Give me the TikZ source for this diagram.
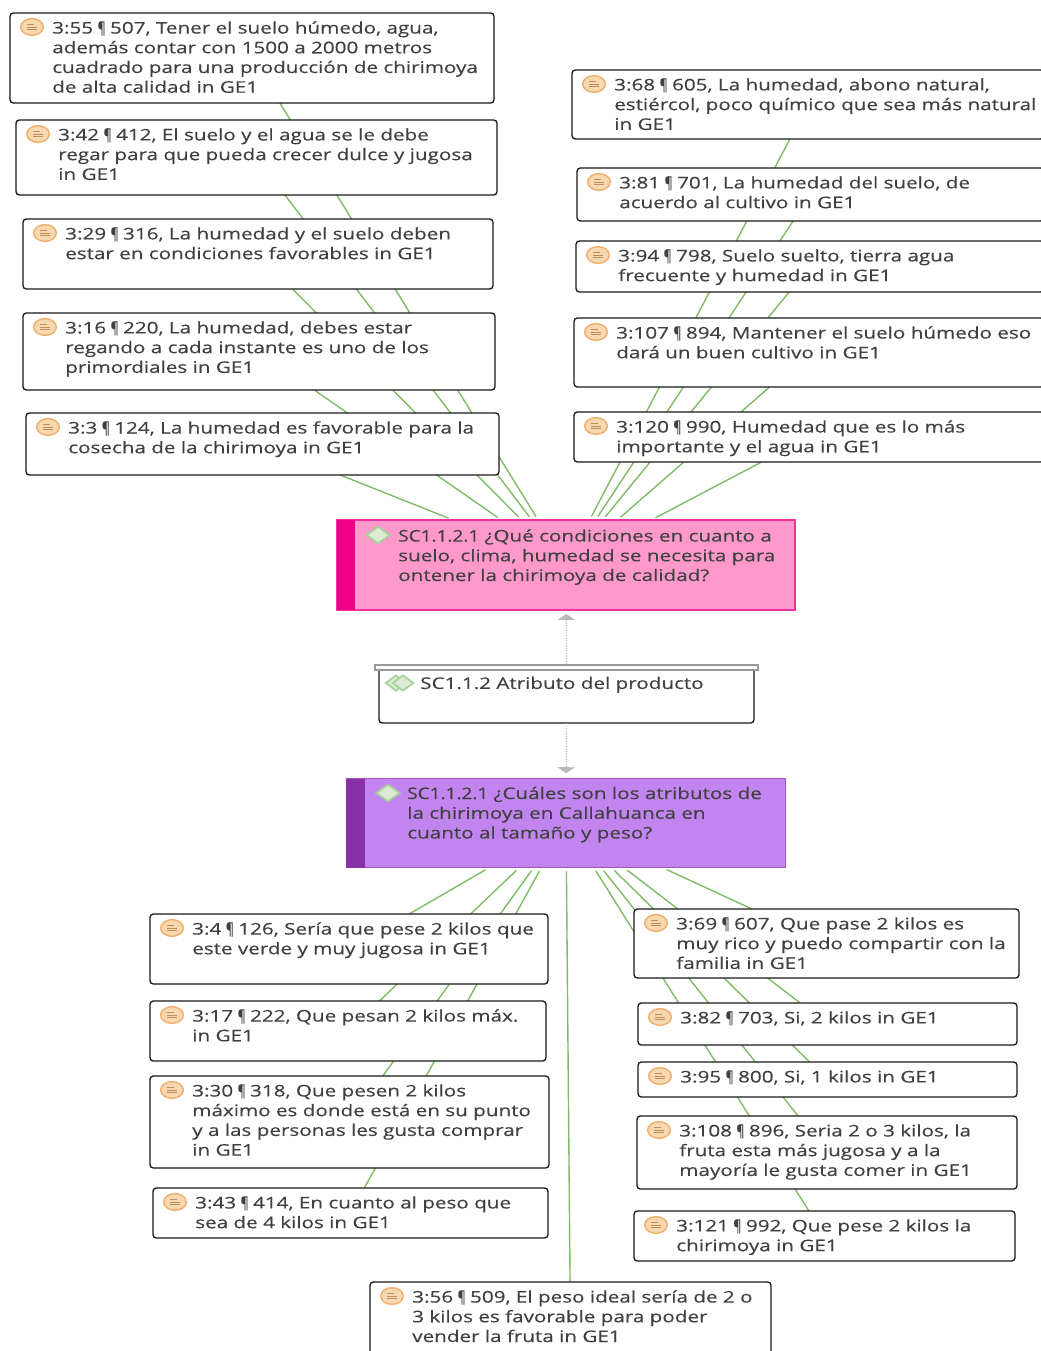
\documentclass[tikz,border=0pt]{standalone}
\usepackage{graphicx}
\usepackage{fontspec}
\setmainfont[FakeStretch=1.29,FakeBold=0.35]{Open Sans}
\usetikzlibrary{shapes.geometric,backgrounds,arrows.meta}

\definecolor{linkgreen}{HTML}{7FBC68}
\definecolor{textgray}{HTML}{404040}
\definecolor{pinkfill}{HTML}{FF99CC}
\definecolor{pinkbar}{HTML}{EE0088}
\definecolor{violetfill}{HTML}{C285EF}
\definecolor{violetbar}{HTML}{8830A8}
\definecolor{notefill}{HTML}{F8D8B0}
\definecolor{noteline}{HTML}{F0B070}
\definecolor{codefill}{HTML}{DDEBD2}
\definecolor{codeline}{HTML}{A5D39A}

\tikzset{
    boxframe/.style={draw=black!90, fill=white, line width=1pt, rounded corners=2.5pt, inner sep=0pt, outer sep=0pt},
    boxtext/.style={anchor=north west, inner sep=0pt, align=left, text=textgray, font=\fontsize{12}{14.8}\selectfont},
    noteicon/.style={ellipse, draw=noteline, line width=1.1pt, fill=notefill, minimum width=17pt, minimum height=12.5pt, inner sep=0pt,
        path picture={\draw[noteline!80!black, line width=.6pt]
            ([xshift=-3.5pt,yshift=1.6pt]path picture bounding box.center) -- +(5pt,0)
            ([xshift=-3.5pt]path picture bounding box.center) -- +(7pt,0)
            ([xshift=-3.5pt,yshift=-1.6pt]path picture bounding box.center) -- +(7pt,0);}},
    codeicon/.style={diamond, draw=codeline, line width=1.3pt, fill=codefill, minimum width=18pt, minimum height=13pt, inner sep=0pt},
    link/.style={draw=linkgreen, line width=1.05pt, shorten >=2.5pt},
    hint/.style={draw=black!28, densely dotted, line width=.9pt, -{Triangle[width=13pt,length=4.5pt]}}
}

% narrow pilcrow and code number
\newcommand{\pil}{\kern-.7pt\scalebox{.6}[1]{¶}\kern-.7pt}
\newcommand{\codeid}{\scalebox{.92}[1]{SC1.1.2.1}}

% name, left, top, right, bottom, text
\newcommand{\quotenode}[6]{
    \node[boxframe, minimum width={(#4-#2)*.75pt}, minimum height={(#5-#3)*.75pt}] (#1) at ({(#2+#4)/2},{(#3+#5)/2}) {};
    \node[noteicon] (#1icon) at (#2+22,#3+14) {};
    \node[boxtext] (#1text) at (#2+42,#3+8) {#6};
}

\begin{document}
\begin{tikzpicture}[x=.75pt,y=-.75pt]
    \useasboundingbox (0,0) rectangle (1040,1351);

    % Quotes above the pink code
    \quotenode{qa}{10}{13}{494}{103}{3:55 \pil{} 507, Tener el suelo húmedo, agua,\\además contar con 1500 a 2000 metros\\cuadrado para una producción de chirimoya\\de alta calidad in GE1}
    \quotenode{qb}{16}{120}{497}{195}{3:42 \pil{} 412, El suelo y el agua se le debe\\regar para que pueda crecer dulce y jugosa\\in GE1}
    \quotenode{qc}{23}{219}{493}{289}{3:29 \pil{} 316, La humedad y el suelo deben\\estar en condiciones favorables in GE1}
    \quotenode{qd}{23}{313}{495}{390}{3:16 \pil{} 220, La humedad, debes estar\\regando a cada instante es uno de los\\primordiales in GE1}
    \quotenode{qe}{26}{413}{499}{475}{3:3 \pil{} 124, La humedad es favorable para la\\cosecha de la chirimoya in GE1}
    \quotenode{qf}{572}{70}{1044}{139}{3:68 \pil{} 605, La humedad, abono natural,\\estiércol, poco químico que sea más natural\\in GE1}
    \quotenode{qg}{577}{168}{1044}{221}{3:81 \pil{} 701, La humedad del suelo, de\\acuerdo al cultivo in GE1}
    \quotenode{qh}{576}{241}{1044}{292}{3:94 \pil{} 798, Suelo suelto, tierra agua\\frecuente y humedad in GE1}
    \quotenode{qi}{574}{318}{1044}{387}{3:107 \pil{} 894, Mantener el suelo húmedo eso\\dará un buen cultivo in GE1}
    \quotenode{qj}{574}{412}{1044}{462}{3:120 \pil{} 990, Humedad que es lo más\\importante y el agua in GE1}

    % Pink code
    \node[rectangle, draw=pinkbar!80, fill=pinkfill, line width=.9pt, minimum width=343.5pt, minimum height=67.5pt, inner sep=0pt] (pinkcode) at (566,565) {};
    \node[fill=pinkbar, minimum width=13.5pt, minimum height=67.5pt, inner sep=0pt] (pinkbar) at (346,565) {};
    \node[codeicon] (pinkicon) at (378,535) {};
    \node[boxtext] (pinktext) at (398,529) {\codeid{} ¿Qué condiciones en cuanto a\\suelo, clima, humedad se necesita para\\ontener la chirimoya de calidad?};

    % Group in the middle
    \node[boxframe, minimum width=281.25pt, minimum height=42pt] (group) at (566.5,695) {};
    \node[draw=black!40, fill=white, line width=1.1pt, minimum width=287pt, minimum height=4pt, inner sep=0pt] (groupcap) at (566.5,667.5) {};
    \node[codeicon, minimum width=16pt, minimum height=12pt] (groupghost) at (396,683) {};
    \node[codeicon, minimum width=16pt, minimum height=12pt] (groupicon) at (403,683) {};
    \node[boxtext] (grouptext) at (420,676.5) {SC1.1.2 Atributo del producto};

    % Violet code
    \node[rectangle, draw=violetbar!80, fill=violetfill, line width=.9pt, minimum width=329.25pt, minimum height=66.75pt, inner sep=0pt] (violetcode) at (566,823) {};
    \node[fill=violetbar, minimum width=14pt, minimum height=66.75pt, inner sep=0pt] (violetbar) at (355.5,823) {};
    \node[codeicon] (violeticon) at (388,793) {};
    \node[boxtext] (violettext) at (407,786.5) {\codeid{} ¿Cuáles son los atributos de\\la chirimoya en Callahuanca en\\cuanto al tamaño y peso?};

    % Quotes below the violet code
    \quotenode{ra}{150}{914}{548}{984}{3:4 \pil{} 126, Sería que pese 2 kilos que\\este verde y muy jugosa in GE1}
    \quotenode{rb}{150}{1001}{546}{1061}{3:17 \pil{} 222, Que pesan 2 kilos máx.\\in GE1}
    \quotenode{rc}{150}{1076}{549}{1168}{3:30 \pil{} 318, Que pesen 2 kilos\\máximo es donde está en su punto\\y a las personas les gusta comprar\\in GE1}
    \quotenode{rd}{153}{1188}{548}{1238}{3:43 \pil{} 414, En cuanto al peso que\\sea de 4 kilos in GE1}
    \quotenode{re}{634}{909}{1019}{978}{3:69 \pil{} 607, Que pase 2 kilos es\\muy rico y puedo compartir con la\\familia in GE1}
    \quotenode{rf}{638}{1003}{1017}{1045}{3:82 \pil{} 703, Si, 2 kilos in GE1}
    \quotenode{rg}{638}{1062}{1017}{1097}{3:95 \pil{} 800, Si, 1 kilos in GE1}
    \quotenode{rh}{637}{1116}{1017}{1189}{3:108 \pil{} 896, Seria 2 o 3 kilos, la\\fruta esta más jugosa y a la\\mayoría le gusta comer in GE1}
    \quotenode{ri}{634}{1211}{1015}{1261}{3:121 \pil{} 992, Que pese 2 kilos la\\chirimoya in GE1}
    \quotenode{rj}{370}{1282}{771}{1380}{3:56 \pil{} 509, El peso ideal sería de 2 o\\3 kilos es favorable para poder\\vender la fruta in GE1}

    % Links run behind the boxes
    \begin{pgfonlayer}{background}
        \foreach \q in {qa,qb,qc,qd,qe,qf,qg,qh,qi,qj}
            \draw[link] (\q) -- (pinkcode);
        \foreach \r in {ra,rb,rc,rd,re,rf,rg,rh,ri,rj}
            \draw[link] (\r) -- (violetcode);
    \end{pgfonlayer}

    % Dotted arrows out of the group
    \draw[hint, shorten >=2.5pt] (groupcap) -- (pinkcode);
    \draw[hint, shorten >=3.5pt] (group) -- (violetcode);
\end{tikzpicture}
\end{document}
